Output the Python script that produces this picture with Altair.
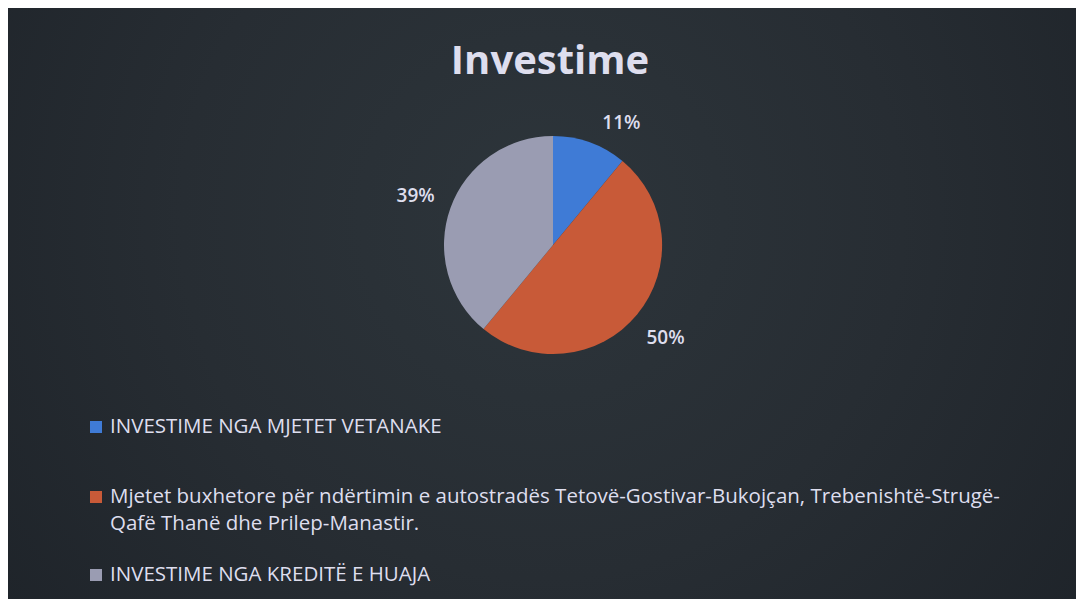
import altair as alt
import pandas as pd

categories = [
    "INVESTIME NGA MJETET VETANAKE",
    "Mjetet buxhetore për ndërtimin e autostradës Tetovë-Gostivar-Bukojçan, Trebenishtë-Strugë-\nQafë Thanë dhe Prilep-Manastir.",
    "INVESTIME NGA KREDITË E HUAJA",
]
values = [11, 50, 39]
labels = ["11%", "50%", "39%"]
colors = ["#3f7bd6", "#c85a38", "#9a9cb2"]
title_text = "Investime"

df = pd.DataFrame({
    "cat": categories,
    "value": values,
    "label": labels,
    "order": [0, 1, 2],
})

W, H = 1068, 591
TXT = "#dedeee"
FONT = "Open Sans"
CX, CY = 545, 237

color_scale = alt.Scale(domain=categories, range=colors)

bg = alt.Chart(pd.DataFrame({"a": [0]})).mark_rect(
    color=alt.Gradient(
        gradient="radial",
        stops=[alt.GradientStop(color="#2d353b", offset=0),
               alt.GradientStop(color="#272d33", offset=0.45),
               alt.GradientStop(color="#1b2026", offset=1)],
        x1=0.5, y1=0.42, x2=0.5, y2=0.42, r1=0, r2=0.75,
    )
).encode(x=alt.value(0), x2=alt.value(W), y=alt.value(0), y2=alt.value(H))

base = alt.Chart(df)

pie = base.mark_arc(outerRadius=109).encode(
    theta=alt.Theta("value:Q", stack=True),
    color=alt.Color("cat:N", scale=color_scale, legend=None),
    order=alt.Order("order:Q"),
    x=alt.value(CX), y=alt.value(CY),
)

pct = base.mark_text(radius=146, font=FONT, fontSize=19, fontWeight=600, color=TXT).encode(
    theta=alt.Theta("value:Q", stack=True),
    order=alt.Order("order:Q"),
    text="label:N",
    opacity=alt.condition(alt.datum.order == 0, alt.value(0), alt.value(1)),
    x=alt.value(CX), y=alt.value(CY),
)
pct_small = base.mark_text(radius=140, dx=21, dy=10, font=FONT, fontSize=19, fontWeight=600, color=TXT).encode(
    theta=alt.Theta("value:Q", stack=True),
    order=alt.Order("order:Q"),
    text="label:N",
    opacity=alt.condition(alt.datum.order == 0, alt.value(1), alt.value(0)),
    x=alt.value(CX), y=alt.value(CY),
)

title = alt.Chart(pd.DataFrame({"t": [title_text]})).mark_text(
    font=FONT, fontSize=40, fontWeight="bold", color=TXT, baseline="middle", align="center"
).encode(text="t:N", x=alt.value(542), y=alt.value(54))

legend_rows = [419, 489, 567]
legend_layers = []
for i, yv in enumerate(legend_rows):
    sq = base.transform_filter(alt.datum.order == i).mark_square(size=144, opacity=1).encode(
        color=alt.Color("cat:N", scale=color_scale, legend=None),
        x=alt.value(88), y=alt.value(yv),
    )
    tx = base.transform_filter(alt.datum.order == i).mark_text(
        font=FONT, fontSize=20.5, color=TXT, align="left", baseline="middle",
        lineBreak="\n", lineHeight=27,
    ).encode(text="cat:N", x=alt.value(102), y=alt.value(yv))
    legend_layers += [sq, tx]

chart = alt.layer(bg, pie, pct, pct_small, title, *legend_layers).properties(
    width=W, height=H, padding=0, autosize="none", background="#1f252a"
).configure_view(stroke=None)

chart.save("out.html", embed_options={"renderer": "svg", "actions": False})
